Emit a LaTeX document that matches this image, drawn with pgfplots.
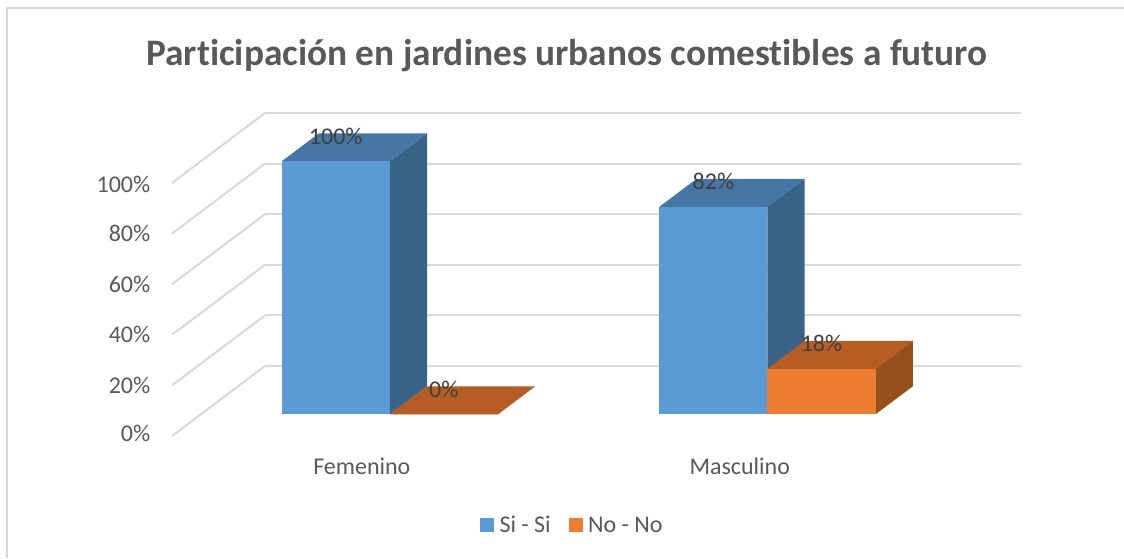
\documentclass[border=0pt]{standalone}
\usepackage{pgfplots}
\pgfplotsset{compat=1.18}
\usepackage{fontspec}
\setmainfont[Ligatures=NoCommon]{Carlito}
\definecolor{txt}{HTML}{595959}
\definecolor{lab}{HTML}{404040}
\definecolor{gridc}{HTML}{D9D9D9}
\definecolor{bluef}{HTML}{5B9BD5}
\definecolor{bluet}{HTML}{4676A3}
\definecolor{blues}{HTML}{3A6487}
\definecolor{orgf}{HTML}{ED7D31}
\definecolor{orgt}{HTML}{B55D22}
\definecolor{orgs}{HTML}{974F1B}
% one bar: x left, x right, value, front, top, side colours
\newcommand{\tdbar}[6]{%
  \addplot3[draw=none,fill=#6,forget plot] coordinates {(#2,0.31,0) (#2,0.71,0) (#2,0.71,#3) (#2,0.31,#3)} --cycle;
  \addplot3[draw=none,fill=#5,forget plot] coordinates {(#1,0.31,#3) (#2,0.31,#3) (#2,0.71,#3) (#1,0.71,#3)} --cycle;
  \addplot3[draw=none,fill=#4,forget plot] coordinates {(#1,0.31,0) (#2,0.31,0) (#2,0.31,#3) (#1,0.31,#3)} --cycle;
}
\newcommand{\tdlabel}[3]{\node[text=lab,font=\fontsize{18pt}{20pt}\selectfont,yshift=19pt] at (axis cs:#1,0.31,#2) {#3};}
\begin{document}
\begin{tikzpicture}[x=0.75pt,y=0.75pt]
\path[use as bounding box,fill=white] (0,0) rectangle (1124,558);
\draw[gridc,line width=1.5pt] (7,0) -- (7,550) -- (1124,550);
\node[text=txt,font=\fontsize{28pt}{32pt}\selectfont\bfseries] at (567,502) {Participación en jardines urbanos comestibles a futuro};
\begin{axis}[
  at={(172pt*0.75,122pt*0.75)},anchor=origin,
  x={(283.5pt,0pt)},y={(69.75pt,52.5pt)},z={(0pt,1.8975pt)},
  xmin=0,xmax=2,ymin=0,ymax=1,zmin=0,zmax=100,
  axis line style={draw=none},
  major tick length=0pt,minor tick length=0pt,
  xtick={0.5,1.5},xticklabels={Femenino,Masculino},
  ytick=\empty,
  ztick={0,20,40,60,80,100},
  zticklabel={\pgfmathprintnumber{\tick}\%},
  zmajorgrids=true,
  major grid style={gridc,line width=1.5pt},
  tick label style={text=txt,font=\fontsize{18pt}{20pt}\selectfont},
  x tick label style={xshift=5.5pt,yshift=-13pt},
  z tick label style={xshift=-12.75pt,yshift=6.5pt},
  /pgf/number format/assume math mode=true,
  clip=false,
  legend columns=2,
  legend style={draw=none,fill=none,at={(0.472,-0.277)},anchor=center,font=\fontsize{18pt}{20pt}\selectfont,text=txt,/tikz/every even column/.append style={column sep=11.5pt},/tikz/every odd column/.append style={column sep=2pt}},
  legend image code/.code={\fill[#1] (0pt,-5pt) rectangle (10.5pt,5.5pt);},
]
\tdbar{0.214}{0.5}{100}{bluef}{bluet}{blues}
\tdbar{0.5}{0.786}{0}{orgf}{orgt}{orgs}
\tdbar{1.213}{1.499}{82}{bluef}{bluet}{blues}
\tdbar{1.499}{1.785}{18}{orgf}{orgt}{orgs}
\addlegendimage{draw=none,fill=bluef}\addlegendentry{Si - Si}
\addlegendimage{draw=none,fill=orgf}\addlegendentry{No - No}
\tdlabel{0.357}{100}{100\%}
\tdlabel{0.643}{0}{0\%}
\tdlabel{1.356}{82}{82\%}
\tdlabel{1.642}{18}{18\%}
\end{axis}
\end{tikzpicture}
\end{document}
